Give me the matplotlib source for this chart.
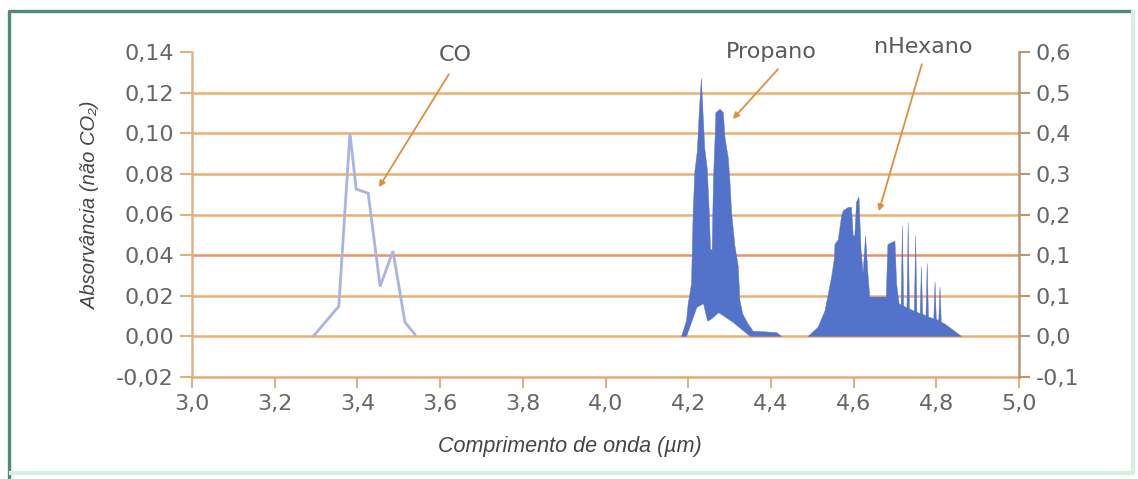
import matplotlib
matplotlib.use("Agg")
import matplotlib.pyplot as plt
from matplotlib.lines import Line2D

# ---------------- data ----------------
x_ticks = [3.0, 3.2, 3.4, 3.6, 3.8, 4.0, 4.2, 4.4, 4.6, 4.8, 5.0]
x_tick_labels = ["3,0", "3,2", "3,4", "3,6", "3,8", "4,0", "4,2", "4,4", "4,6", "4,8", "5,0"]
left_ticks = [-0.02, 0.00, 0.02, 0.04, 0.06, 0.08, 0.10, 0.12, 0.14]
left_tick_labels = ["-0,02", "0,00", "0,02", "0,04", "0,06", "0,08", "0,10", "0,12", "0,14"]
right_tick_labels = ["-0,1", "0,0", "0,1", "0,1", "0,2", "0,3", "0,4", "0,5", "0,6"]
right_max = 0.6

# CO (left axis)
co_x = [3.293, 3.355, 3.382, 3.397, 3.426, 3.455, 3.486, 3.515, 3.539]
co_y = [0.000, 0.0148, 0.100, 0.0725, 0.0705, 0.0246, 0.042, 0.007, 0.001]

# Propano (right axis) upper and lower outline
prop_up_x = [4.184, 4.196, 4.200, 4.208, 4.212, 4.216, 4.222, 4.227, 4.232, 4.236,
             4.240, 4.246, 4.251, 4.254, 4.258, 4.261, 4.265, 4.267, 4.277, 4.285,
             4.289, 4.297, 4.301, 4.305, 4.313, 4.321, 4.325, 4.332, 4.345, 4.357,
             4.414, 4.426]
prop_up_y = [0.000, 0.033, 0.069, 0.111, 0.261, 0.347, 0.390, 0.476, 0.544, 0.469,
             0.397, 0.354, 0.261, 0.183, 0.183, 0.326, 0.419, 0.472, 0.479, 0.472,
             0.419, 0.376, 0.326, 0.261, 0.191, 0.148, 0.076, 0.047, 0.026, 0.011,
             0.008, 0.000]
prop_lo_x = [4.184, 4.196, 4.221, 4.237, 4.247, 4.255, 4.274, 4.308, 4.350, 4.426]
prop_lo_y = [0.000, 0.000, 0.061, 0.069, 0.032, 0.036, 0.050, 0.030, 0.000, 0.000]

# nHexano (right axis)
hex_x = [4.490, 4.514, 4.531, 4.539, 4.547, 4.553, 4.555, 4.563, 4.571, 4.575,
         4.587, 4.595, 4.599, 4.603, 4.607, 4.613, 4.618, 4.623, 4.629, 4.634,
         4.639, 4.679, 4.683, 4.700, 4.704, 4.710,
         4.715, 4.718, 4.721, 4.729, 4.732, 4.735, 4.747, 4.750, 4.753,
         4.761, 4.764, 4.767, 4.775, 4.778, 4.781, 4.794, 4.797, 4.800,
         4.806, 4.809, 4.812, 4.821, 4.861]
hex_y = [0.000, 0.019, 0.054, 0.090, 0.126, 0.161, 0.194, 0.204, 0.254, 0.265,
         0.272, 0.272, 0.212, 0.212, 0.283, 0.294, 0.183, 0.133, 0.212, 0.140,
         0.083, 0.083, 0.194, 0.201, 0.111, 0.069,
         0.066, 0.233, 0.064, 0.060, 0.240, 0.058, 0.053, 0.212, 0.051,
         0.048, 0.147, 0.047, 0.043, 0.154, 0.041, 0.037, 0.115, 0.036,
         0.033, 0.104, 0.030, 0.026, 0.000]

# annotations: (label, text position, arrow start, arrow tip) in data coords of left axis
annotations = [
    ("CO", (3.636, 0.1385), (3.621, 0.129), (3.452, 0.0734)),
    ("Propano", (4.402, 0.1400), (4.417, 0.1315), (4.308, 0.107)),
    ("nHexano", (4.768, 0.1424), (4.765, 0.134), (4.661, 0.0616)),
]

# ---------------- style ----------------
W, H = 1138, 479
fig = plt.figure(figsize=(W / 100, H / 100), dpi=100)
fig.patch.set_facecolor("white")

ax = fig.add_axes([192 / W, (H - 377) / H, 827 / W, 325 / H])
ax2 = ax.twinx()

grid_color = "#F0AE6E"
spine_left = "#DDB48A"
spine_right = "#B79676"
tick_col = "#666666"
tick_font = "DejaVu Sans"

ax.set_xlim(3.0, 5.0)
ax.set_ylim(-0.02, 0.14)
ax2.set_ylim(-right_max / 7, right_max)

for v in left_ticks[1:-1]:
    c = "#EE9262" if abs(v - 0.04) < 1e-9 else grid_color
    ax.axhline(v, color=c, lw=1.8, zorder=1)

ax.plot(co_x, co_y, color="#A9B4E2", lw=2.0, zorder=3, solid_joinstyle="miter")

fill_blue = "#5372CA"
poly_x = prop_up_x + prop_lo_x[::-1]
poly_y = prop_up_y + prop_lo_y[::-1]
ax2.fill(poly_x, poly_y, color=fill_blue, lw=0.3, zorder=3)
ax2.fill(hex_x + [hex_x[0]], hex_y + [hex_y[0]], color=fill_blue, lw=0.3, zorder=3)

# spines
ax.spines["top"].set_visible(False)
ax2.spines["top"].set_visible(False)
ax.spines["right"].set_visible(False)
ax2.spines["left"].set_visible(False)
ax2.spines["bottom"].set_visible(False)
ax.spines["left"].set_color(spine_left)
ax.spines["left"].set_linewidth(1.8)
ax.spines["bottom"].set_color("#E2AC76")
ax.spines["bottom"].set_linewidth(1.8)
ax2.spines["right"].set_color(spine_right)
ax2.spines["right"].set_linewidth(1.8)

ax.set_xticks(x_ticks)
ax.set_xticklabels(x_tick_labels)
ax.set_yticks(left_ticks)
ax.set_yticklabels(left_tick_labels)
ax2.set_yticks([k * right_max / 7 for k in range(-1, 8)])
ax2.set_yticklabels(right_tick_labels)

ax.tick_params(axis="x", length=8, width=1.5, color="#E0B080", pad=4,
               labelsize=16, labelcolor=tick_col)
ax.tick_params(axis="y", length=9, width=1.5, color="#E0B080", pad=4,
               labelsize=16, labelcolor=tick_col)
ax2.tick_params(axis="y", length=8, width=1.5, color=spine_right, pad=4,
                labelsize=16, labelcolor=tick_col)
for lab in ax.get_xticklabels() + ax.get_yticklabels() + ax2.get_yticklabels():
    lab.set_family(tick_font)

ax.set_xlabel("Comprimento de onda (\u00b5m)", fontsize=15.5, style="italic",
              color="#454545", family=["Liberation Sans", "DejaVu Sans"], va="center")
ax.xaxis.set_label_coords(0.457, -0.215)
ax.set_ylabel("Absorv\u00e2ncia (n\u00e3o CO\u2082)", fontsize=14.5, style="italic",
              color="#454545", family=["Liberation Sans", "DejaVu Sans"], va="center")
ax.yaxis.set_label_coords(-0.123, 0.529)

for label, tpos, start, tip in annotations:
    ax.text(tpos[0], tpos[1], label, fontsize=16, color="#5a5a5a", family=tick_font,
            ha="center", va="center", clip_on=False, zorder=6)
    ax.annotate("", xy=tip, xytext=start, annotation_clip=False,
                arrowprops=dict(arrowstyle="-|>", color="#DE9040", lw=1.3,
                                mutation_scale=9, shrinkA=0, shrinkB=0), zorder=6)

# frame of the figure: dark green left/top, pale green right/bottom
frame = Line2D([9 / W, 9 / W, 1131 / W],
               [0, 1 - 11 / H, 1 - 11 / H],
               transform=fig.transFigure, color="#4F8B74", lw=2.4)
fig.add_artist(frame)
pale = Line2D([1133 / W, 1133 / W, 11 / W],
              [1 - 12 / H, 6 / H, 6 / H],
              transform=fig.transFigure, color="#D6F0E2", lw=3)
fig.add_artist(pale)

fig.savefig("out.png", dpi=100, facecolor="white")
